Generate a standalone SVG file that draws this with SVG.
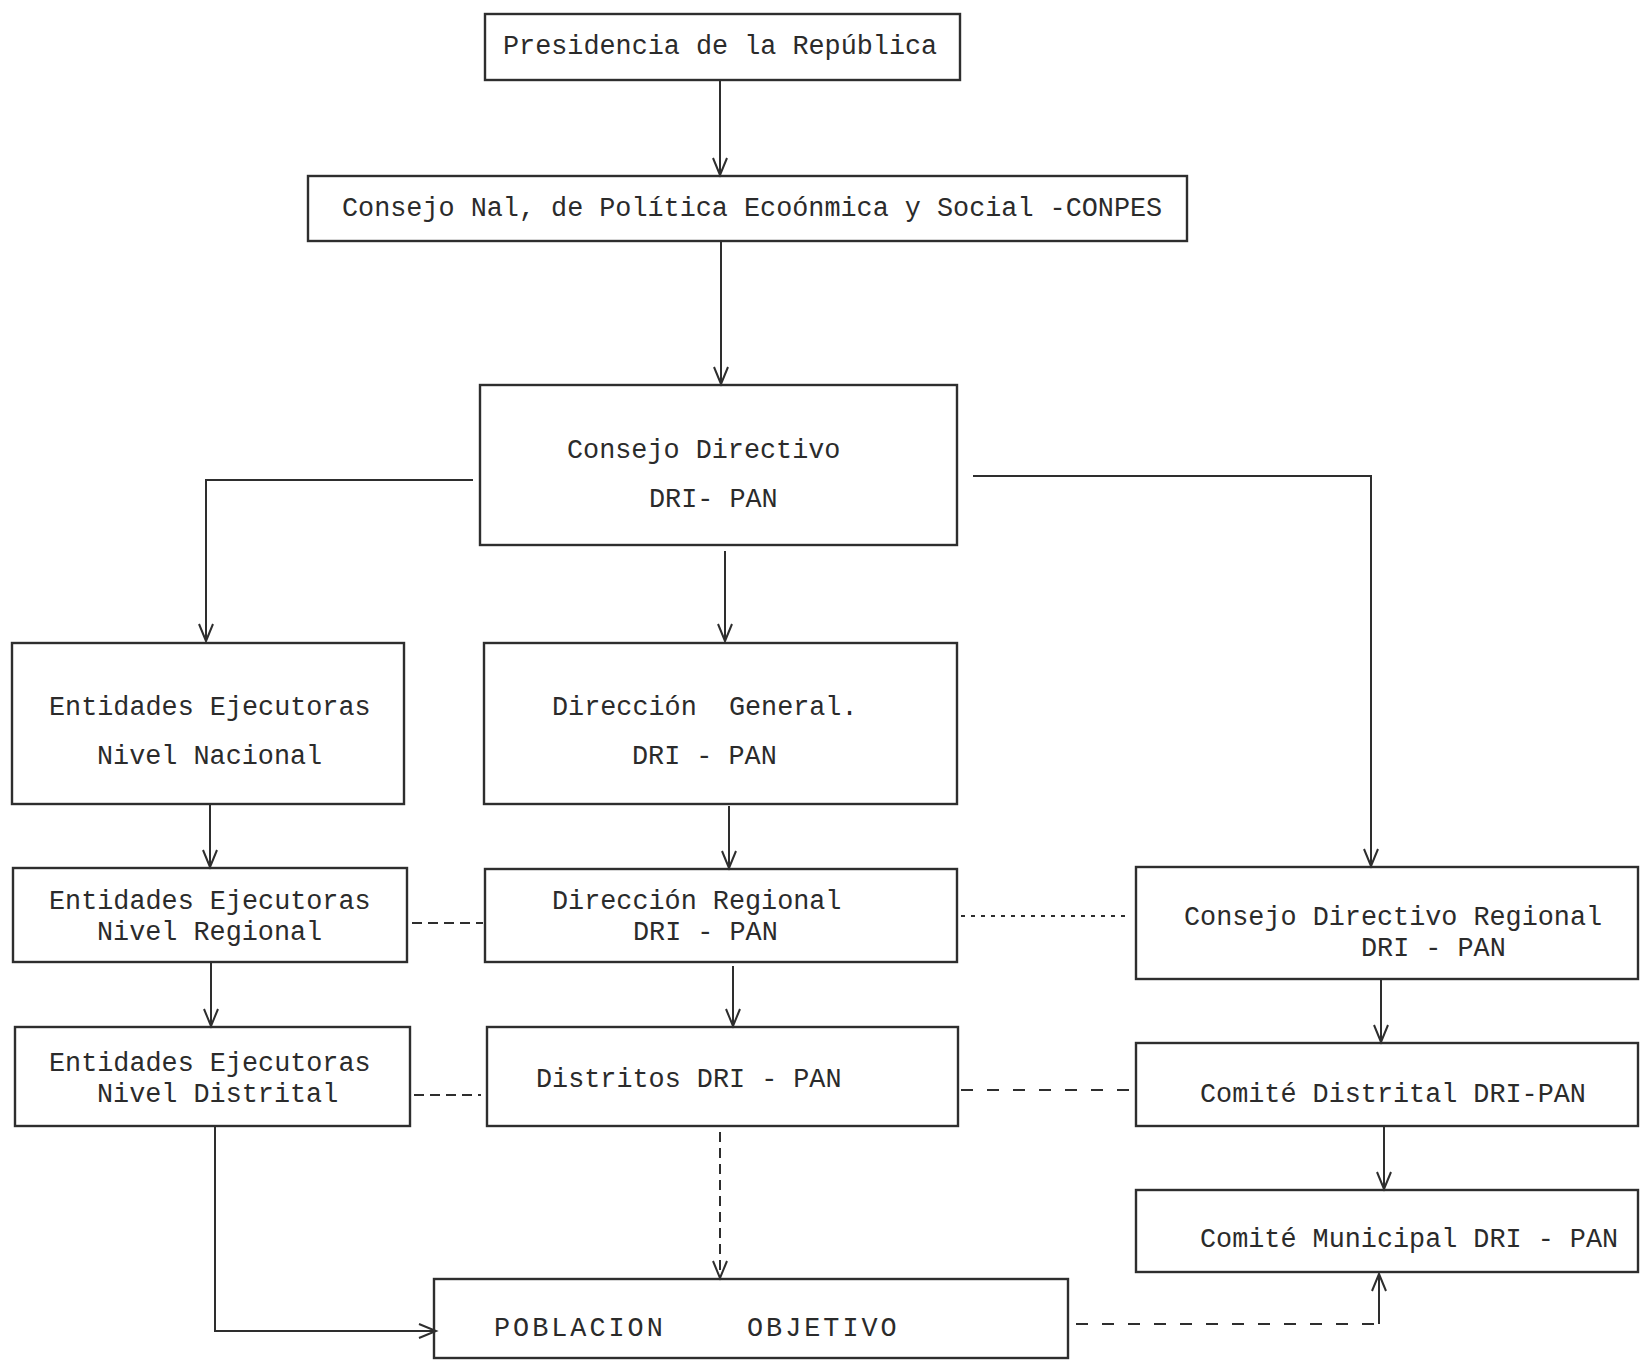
<svg xmlns="http://www.w3.org/2000/svg" width="1641" height="1361" viewBox="0 0 1641 1361">
<style>
.box{fill:none;stroke:#2e2e2e;stroke-width:2.4}
.t{font-family:"Liberation Mono","DejaVu Sans Mono",monospace;font-size:26.8px;fill:#2b2b2b;white-space:pre}
.sp{letter-spacing:3px}
.c{fill:none;stroke:#2e2e2e;stroke-width:2}
.arr{marker-end:url(#ah)}
.d1{stroke-dasharray:10 6}
.d2{stroke-dasharray:4 6}
.d3{stroke-dasharray:12 14}
</style>
<defs>
<marker id="ah" markerUnits="userSpaceOnUse" markerWidth="24" markerHeight="24" viewBox="-20 -12 24 24" refX="0" refY="0" orient="auto" overflow="visible">
<path d="M-17,-7 L0,0 L-17,7" fill="none" stroke="#2e2e2e" stroke-width="2"/>
</marker>
</defs>
<rect width="1641" height="1361" fill="#ffffff"/>
<g id="connectors">
<path class="c arr" d="M720,80 V175"/>
<path class="c arr" d="M721,241 V384"/>
<path class="c arr" d="M473,480 H206 V641"/>
<path class="c arr" d="M973,476 H1371 V866"/>
<path class="c arr" d="M725,551 V641"/>
<path class="c arr" d="M210,804 V867"/>
<path class="c arr" d="M729,806 V868"/>
<path class="c arr" d="M211,962 V1026"/>
<path class="c arr" d="M733,966 V1026"/>
<path class="c arr" d="M1381,979 V1042"/>
<path class="c arr" d="M1384,1126 V1189"/>
<path class="c d1 arr" d="M720,1132 V1278"/>
<path class="c arr" d="M215,1127 V1331 H436"/>
<path class="c d3" d="M1076,1324 H1379"/>
<path class="c arr" d="M1379,1324 V1274"/>
<path class="c d1" d="M412,923 H483"/>
<path class="c d2" d="M961,916 H1127"/>
<path class="c d1" d="M414,1095 H481"/>
<path class="c d3" d="M961,1090 H1132"/>
</g>
<g id="presidencia"><rect class="box" x="485" y="14" width="475" height="66"/><text class="t" x="503" y="54">Presidencia de la República</text></g>
<g id="conpes"><rect class="box" x="308" y="176" width="879" height="65"/><text class="t" x="342" y="216">Consejo Nal, de Política Ecoónmica y Social -CONPES</text></g>
<g id="consejo-directivo"><rect class="box" x="480" y="385" width="477" height="160"/><text class="t" x="567" y="458">Consejo Directivo</text><text class="t" x="649" y="507">DRI- PAN</text></g>
<g id="entidades-nacional"><rect class="box" x="12" y="643" width="392" height="161"/><text class="t" x="49" y="715">Entidades Ejecutoras</text><text class="t" x="97" y="764">Nivel Nacional</text></g>
<g id="direccion-general"><rect class="box" x="484" y="643" width="473" height="161"/><text class="t" x="552" y="715" xml:space="preserve">Dirección  General.</text><text class="t" x="632" y="764">DRI - PAN</text></g>
<g id="entidades-regional"><rect class="box" x="13" y="868" width="394" height="94"/><text class="t" x="49" y="909">Entidades Ejecutoras</text><text class="t" x="97" y="940">Nivel Regional</text></g>
<g id="direccion-regional"><rect class="box" x="485" y="869" width="472" height="93"/><text class="t" x="552" y="909">Dirección Regional</text><text class="t" x="633" y="940">DRI - PAN</text></g>
<g id="consejo-directivo-regional"><rect class="box" x="1136" y="867" width="502" height="112"/><text class="t" x="1184" y="925">Consejo Directivo Regional</text><text class="t" x="1361" y="956">DRI - PAN</text></g>
<g id="entidades-distrital"><rect class="box" x="15" y="1027" width="395" height="99"/><text class="t" x="49" y="1071">Entidades Ejecutoras</text><text class="t" x="97" y="1102">Nivel Distrital</text></g>
<g id="distritos"><rect class="box" x="487" y="1027" width="471" height="99"/><text class="t" x="536" y="1087">Distritos DRI - PAN</text></g>
<g id="comite-distrital"><rect class="box" x="1136" y="1043" width="502" height="83"/><text class="t" x="1200" y="1102">Comité Distrital DRI-PAN</text></g>
<g id="comite-municipal"><rect class="box" x="1136" y="1190" width="502" height="82"/><text class="t" x="1200" y="1247">Comité Municipal DRI - PAN</text></g>
<g id="poblacion"><rect class="box" x="434" y="1279" width="634" height="79"/><text class="t sp" x="494" y="1336">POBLACION</text><text class="t sp" x="747" y="1336">OBJETIVO</text></g>
</svg>
